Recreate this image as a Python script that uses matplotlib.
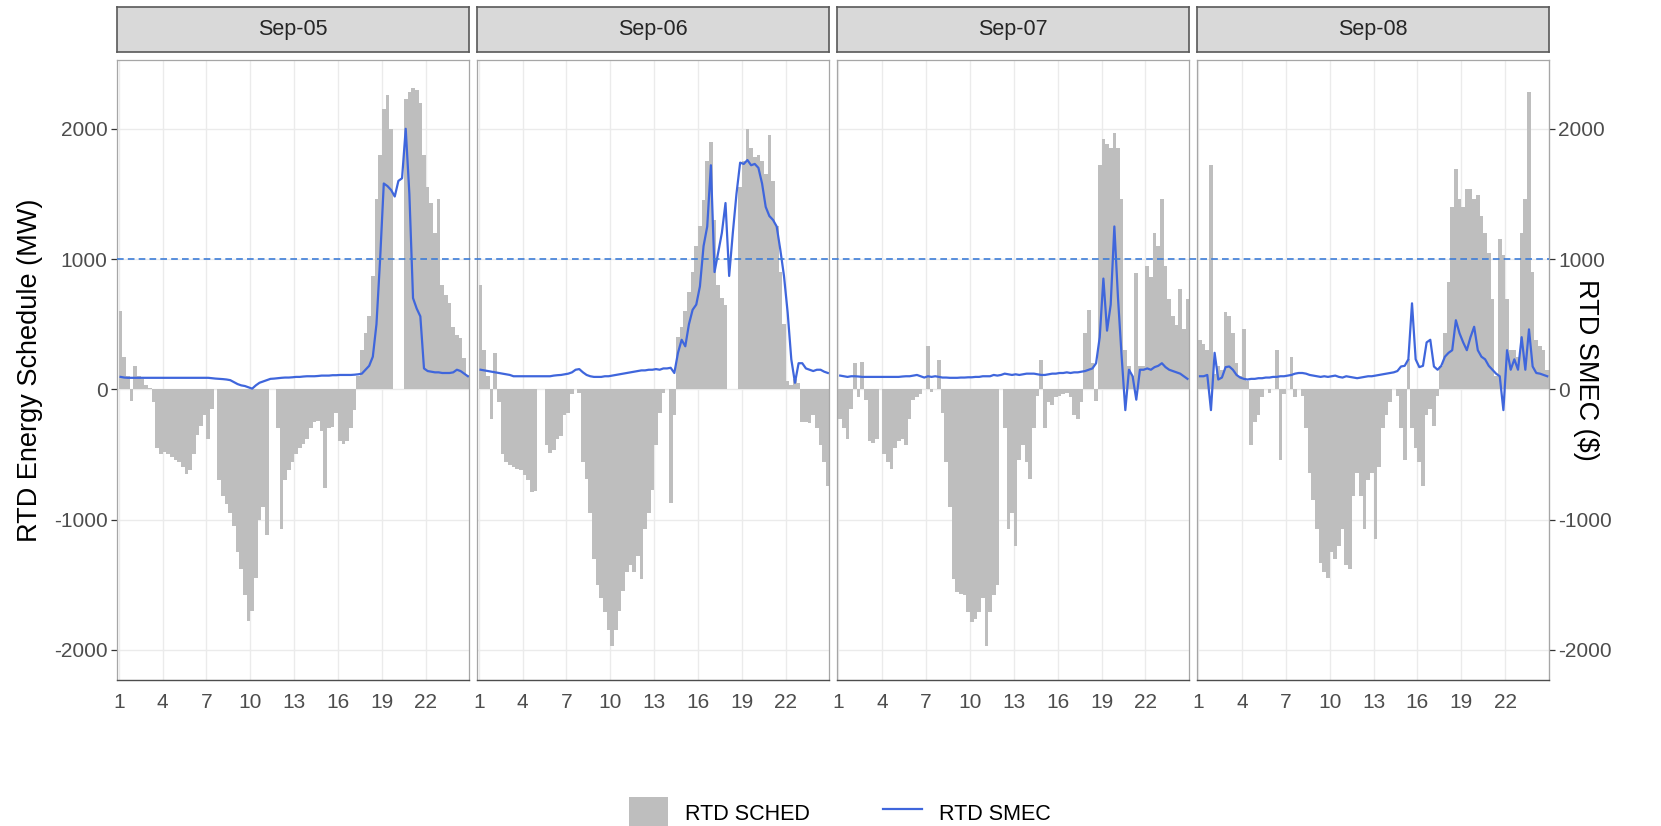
import numpy as np
import matplotlib
matplotlib.use("Agg")
import matplotlib.pyplot as plt
from matplotlib.patches import Patch
from matplotlib.lines import Line2D
from matplotlib.transforms import blended_transform_factory

plt.rcParams["font.family"] = ["Liberation Sans", "DejaVu Sans"]
plt.rcParams["axes.unicode_minus"] = False

days = ["Sep-05", "Sep-06", "Sep-07", "Sep-08"]
hour_ticks = [1, 4, 7, 10, 13, 16, 19, 22]
y_ticks = [-2000, -1000, 0, 1000, 2000]
smec_ref = 1000

# RTD schedule (MW), 15-minute steps from hour 1.00 to 24.75
sched_sep05 = [
    600, 250, 100, -90, 180, 100, 80, 30, 10, -100, -450, -500, -480, -500, -520, -540,
    -560, -600, -650, -620, -500, -350, -280, -200, -380, -150, 0, -700, -820, -880, -950, -1050,
    -1250, -1380, -1580, -1780, -1700, -1450, -1000, -900, -1120, 0, 0, -300, -1070, -700, -620, -560,
    -500, -450, -420, -380, -300, -250, -240, -320, -760, -300, -290, -180, -400, -420, -400, -300,
    -160, 100, 300, 430, 560, 870, 1460, 1800, 2150, 2260, 2000, 0, 0, 0, 2230, 2280,
    2310, 2300, 2200, 1800, 1550, 1430, 1200, 1460, 800, 720, 660, 480, 420, 390, 240, 110,
]
sched_sep06 = [
    800, 300, 100, -230, 280, -100, -500, -560, -580, -600, -610, -620, -660, -700, -790, -780,
    0, 0, -430, -490, -470, -380, -360, -200, -180, -40, 0, -30, -560, -690, -950, -1300,
    -1500, -1600, -1710, -1850, -1970, -1850, -1700, -1550, -1400, -1350, -1400, -1280, -1460, -1070, -950, -770,
    -430, -180, -30, 0, -870, -200, 400, 480, 600, 750, 900, 1100, 1250, 1450, 1750, 1900,
    1300, 800, 700, 650, 0, 0, 0, 1550, 1750, 2000, 1850, 1780, 1800, 1750, 1650, 1950,
    1600, 1250, 900, 500, 60, 30, 80, 50, -250, -250, -260, -200, -300, -430, -560, -740,
]
sched_sep07 = [
    -230, -300, -380, -150, 200, -60, 210, -80, -400, -410, -380, 0, -500, -560, -610, -450,
    -400, -380, -430, -230, -80, -60, -40, 0, 330, -20, 0, 225, -180, -560, -900, -1460,
    -1560, -1570, -1580, -1710, -1790, -1760, -1710, -1600, -1970, -1710, -1580, -1500, 0, -300, -1070, -950,
    -1200, -540, -430, -560, -690, -300, -50, 225, -300, -100, -120, -60, -50, -40, -30, -60,
    -200, -230, -100, 430, 610, 200, -90, 1720, 1920, 1880, 1850, 1970, 1850, 1460, 300, 175,
    100, 890, 175, 180, 950, 860, 1200, 1100, 1460, 950, 690, 560, 490, 770, 460, 690,
]
sched_sep08 = [
    380, 350, 300, 1720, 120, 175, 150, 590, 560, 430, 200, 100, 460, 60, -430, -250,
    -200, -60, 0, -30, 0, 300, -540, -40, 0, 250, -60, 0, -50, -300, -640, -850,
    -1070, -1330, -1400, -1450, -1250, -1300, -1200, -1070, -1350, -1380, -820, -640, -820, -1070, -700, -640,
    -1150, -600, -300, -200, -100, 0, -50, -300, -540, 230, -300, -450, -560, -740, -200, -150,
    -280, -50, 175, 430, 820, 1400, 1690, 1460, 1400, 1540, 1540, 1460, 1490, 1330, 1200, 1050,
    690, 100, 1150, 1030, 690, 300, 300, 250, 1200, 1460, 2280, 900, 380, 330, 300, 150,
]

# RTD SMEC ($), same 15-minute steps
smec_sep05 = [
    95, 90, 88, 88, 88, 88, 88, 88, 88, 88, 88, 88, 88, 88, 88, 88,
    88, 88, 88, 88, 88, 88, 88, 88, 88, 85, 82, 80, 78, 75, 70, 55,
    40, 30, 25, 15, 5, 30, 50, 60, 70, 80, 82, 85, 88, 90, 90, 92,
    95, 95, 98, 100, 100, 100, 102, 105, 105, 105, 108, 108, 110, 110, 110, 110,
    112, 115, 120, 150, 180, 250, 500, 1000, 1580, 1560, 1530, 1480, 1600, 1620, 2000, 1500,
    700, 620, 560, 160, 140, 135, 130, 130, 125, 125, 125, 130, 150, 140, 120, 100,
]
smec_sep06 = [
    150, 145, 140, 135, 130, 125, 120, 115, 110, 100, 100, 100, 100, 100, 100, 100,
    100, 100, 100, 100, 105, 108, 110, 115, 120, 130, 150, 155, 130, 110, 100, 95,
    95, 95, 100, 100, 105, 110, 115, 120, 125, 130, 135, 140, 145, 145, 150, 150,
    155, 150, 160, 160, 165, 125, 280, 380, 330, 500, 610, 650, 790, 1100, 1250, 1720,
    900, 1050, 1200, 1430, 870, 1200, 1500, 1740, 1730, 1760, 1720, 1730, 1700, 1580, 1400, 1330,
    1300, 1250, 1070, 870, 590, 230, 50, 200, 200, 160, 150, 140, 150, 150, 135, 125,
]
smec_sep07 = [
    105, 100, 95, 100, 100, 98, 95, 95, 95, 95, 95, 95, 95, 95, 95, 95,
    95, 98, 100, 100, 105, 110, 100, 90, 100, 95, 100, 95, 90, 90, 88, 88,
    88, 90, 90, 92, 92, 95, 95, 100, 100, 100, 110, 105, 110, 120, 115, 110,
    115, 110, 115, 120, 120, 120, 115, 110, 110, 115, 120, 120, 125, 125, 130, 125,
    130, 130, 135, 140, 150, 160, 200, 400, 850, 450, 650, 1250, 700, 250, -160, 150,
    100, -80, 150, 150, 160, 150, 170, 180, 200, 170, 150, 140, 130, 120, 100, 80,
]
smec_sep08 = [
    100, 100, 110, -160, 280, 75, 90, 170, 175, 150, 110, 90, 80, 75, 80, 80,
    85, 85, 90, 90, 95, 95, 100, 100, 105, 110, 120, 125, 125, 120, 110, 105,
    100, 95, 100, 95, 100, 105, 95, 90, 100, 95, 90, 85, 90, 95, 100, 100,
    105, 110, 115, 120, 125, 130, 140, 175, 180, 230, 660, 230, 170, 180, 360, 380,
    175, 150, 180, 250, 280, 300, 530, 430, 360, 300, 400, 480, 300, 250, 230, 180,
    150, 120, 100, -160, 300, 150, 230, 150, 400, 150, 460, 175, 125, 120, 110, 100,
]

sched = [sched_sep05, sched_sep06, sched_sep07, sched_sep08]
smec = [smec_sep05, smec_sep06, smec_sep07, smec_sep08]
hours = 1 + np.arange(len(sched_sep05)) * 0.25

BAR_COLOR = "#bebebe"
LINE_COLOR = "#3f66dc"
DASH_COLOR = "#3d7dd8"
TICK_COLOR = "#4d4d4d"

W, H = 1661, 826
fig = plt.figure(figsize=(W / 100, H / 100), dpi=100)

panel_left = [117.3, 477.3, 836.9, 1196.7]
panel_w = 351.8
panel_top, panel_bot = 60, 680
strip_top, strip_bot = 7, 52

axes = []
for i, day in enumerate(days):
    ax = fig.add_axes([panel_left[i] / W, (H - panel_bot) / H,
                       panel_w / W, (panel_bot - panel_top) / H])
    ax.bar(hours, sched[i], width=0.25, align="edge", color=BAR_COLOR,
           linewidth=0, zorder=2)
    ax.plot(hours + 0.125, smec[i], color=LINE_COLOR, linewidth=1.6, zorder=3)

    ax.set_xlim(0.9, 24.96)
    ax.set_ylim(-2232, 2528)
    ax.set_xticks(hour_ticks)
    ax.set_yticks(y_ticks)
    ax.set_axisbelow(True)
    ax.grid(color="#ebebeb", linewidth=1.0, zorder=0)
    for side in ["top", "left", "right"]:
        ax.spines[side].set_color("#a6a6a6")
        ax.spines[side].set_linewidth(0.9)
    ax.spines["bottom"].set_color("#4d4d4d")
    ax.spines["bottom"].set_linewidth(1.0)
    ax.tick_params(axis="x", length=0, pad=9, labelsize=15, labelcolor=TICK_COLOR)
    if i == 0:
        ax.tick_params(axis="y", length=4, width=0.9, color="#333333", pad=3,
                       labelsize=15, labelcolor=TICK_COLOR)
    else:
        ax.tick_params(axis="y", length=0, labelleft=False)
    if i == len(days) - 1:
        sec = ax.secondary_yaxis("right", functions=(lambda v: v, lambda v: v))
        sec.set_yticks(y_ticks)
        sec.spines["right"].set_color("#a6a6a6")
        sec.tick_params(length=4, width=0.9, color="#333333", pad=3,
                        labelsize=15, labelcolor=TICK_COLOR)
    axes.append(ax)

    # facet strip
    sax = fig.add_axes([panel_left[i] / W, (H - strip_bot) / H,
                        panel_w / W, (strip_bot - strip_top) / H])
    sax.set_facecolor("#d9d9d9")
    sax.set_xticks([])
    sax.set_yticks([])
    for sp in sax.spines.values():
        sp.set_color("#595959")
        sp.set_linewidth(1.2)
    sax.text(0.5, 0.5, day, ha="center", va="center", fontsize=15.5,
             color="#262626", transform=sax.transAxes)

# dashed SMEC reference line across all facets
x0 = panel_left[0] / W
x1 = (panel_left[-1] + panel_w) / W
trans = blended_transform_factory(fig.transFigure, axes[0].transData)
fig.add_artist(Line2D([x0, x1], [smec_ref, smec_ref], transform=trans,
                      color=DASH_COLOR, linewidth=1.2, linestyle=(0, (4, 2.5)),
                      zorder=5))

fig.text(30 / W, 1 - 370 / H, "RTD Energy Schedule (MW)", rotation=90,
         ha="center", va="center", fontsize=19.5, color="black")
fig.text(1586 / W, 1 - 370 / H, "RTD SMEC ($)", rotation=270,
         ha="center", va="center", fontsize=19.5, color="black")

handles = [Patch(facecolor=BAR_COLOR, edgecolor="none"),
           Line2D([0], [0], color=LINE_COLOR, linewidth=1.6)]
fig.legend(handles, ["RTD SCHED", "RTD SMEC"], loc="center",
           bbox_to_anchor=(839.5 / W, 1 - 813 / H), ncol=2, frameon=False,
           fontsize=15.5, handlelength=1.85, handleheight=1.85,
           handletextpad=0.75, columnspacing=3.4, borderpad=0)

fig.savefig("out.png", dpi=100)
